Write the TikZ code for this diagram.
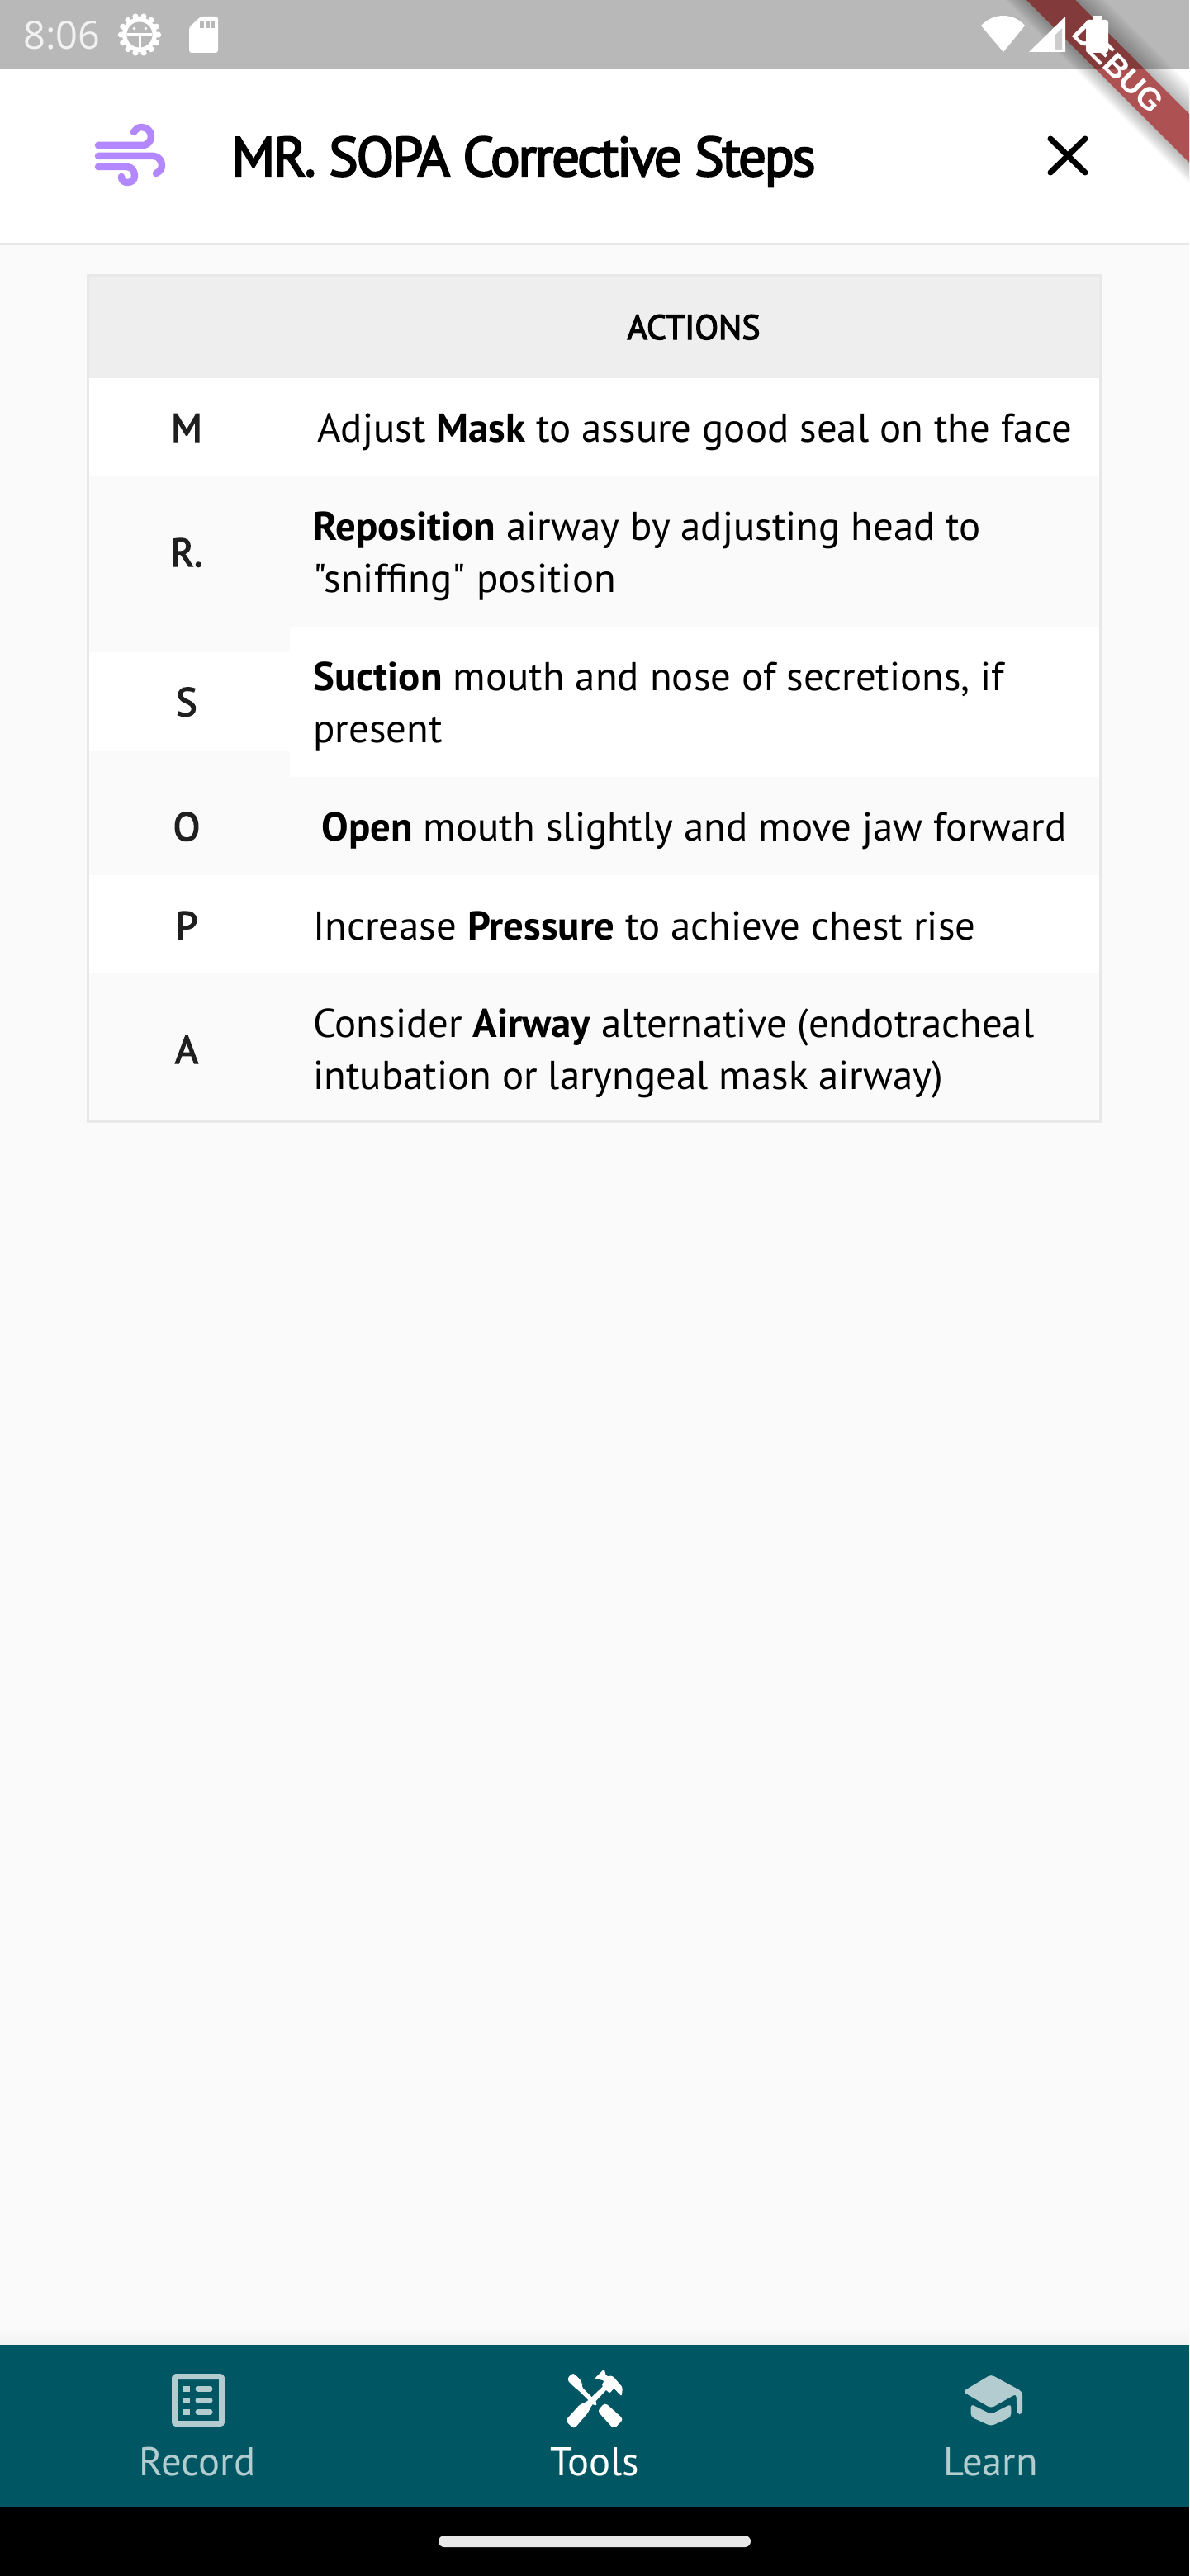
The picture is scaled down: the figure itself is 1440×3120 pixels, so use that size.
\documentclass[tikz,border=0pt]{standalone}
\usepackage{fontspec}
\setmainfont[Ligatures=TeXOff]{PT Sans}
\newfontfamily\medfont[Ligatures=TeXOff,RawFeature={embolden=3}]{PT Sans}
\newfontfamily\clockfont{Open Sans}
\newfontfamily\bannerfont{Liberation Sans}
\usepackage{xcolor}
\usetikzlibrary{positioning,calc}
\definecolor{pagebg}{HTML}{FAFAFA}
\definecolor{statusgray}{HTML}{B8B8B8}
\definecolor{headgray}{HTML}{EEEEEE}
\definecolor{linegray}{HTML}{E8E8E8}
\definecolor{navteal}{HTML}{005662}
\definecolor{navicon}{HTML}{B2CCD0}
\definecolor{windpurple}{HTML}{B388FF}
\definecolor{bannerred}{HTML}{AD5152}
\definecolor{bannerdark}{HTML}{823A3A}
\tikzset{
    rowletter/.style={anchor=base, inner sep=0pt, text=black!88, font=\fontsize{24}{26}\selectfont\medfont},
    rowtext/.style={anchor=base west, inner sep=0pt, align=left, text=black, font=\fontsize{24.4}{31.5}\selectfont},
    navlabel/.style={anchor=base, inner sep=0pt, font=\fontsize{24.3}{26}\selectfont},
    zoomed/.style={x=0.16667pt, y=-0.16667pt}
}
\begin{document}
\begin{tikzpicture}[x=0.5pt, y=-0.5pt, line cap=butt]
    \useasboundingbox (0,0) rectangle (1440,3120);
    \fill[pagebg] (0,0) rectangle (1440,3120);

    % Bars
    \fill[statusgray] (0,0) rectangle (1440,84);
    \fill[white] (0,84) rectangle (1440,294);
    \fill[linegray] (0,294) rectangle (1440,297);

    % Table
    \fill[linegray] (105,332) rectangle (1334,1360);
    \fill[headgray] (108,335) rectangle (1331,458);
    \fill[white] (108,458) rectangle (1331,577);
    \fill[pagebg] (108,577) rectangle (1331,941);
    \fill[white] (108,790) rectangle (351,910);
    \fill[white] (351,760) rectangle (1331,941);
    \fill[pagebg] (108,941) rectangle (1331,1060);
    \fill[white] (108,1060) rectangle (1331,1179);
    \fill[pagebg] (108,1179) rectangle (1331,1357);

    \node[anchor=base, inner sep=0pt, font=\fontsize{21}{26}\selectfont\medfont] (actions) at (840,411) {ACTIONS};

    \node[rowletter] (letterm) at (226,535) {M};
    \node[rowletter] (letterr) at (226,686) {R.};
    \node[rowletter] (letters) at (226,867) {S};
    \node[rowletter] (lettero) at (226,1018) {O};
    \node[rowletter] (letterp) at (226,1138) {P};
    \node[rowletter] (lettera) at (226,1288) {A};

    \node[rowtext] (textm) at (384,535) {Adjust \textbf{Mask} to assure good seal on the face};
    \node[rowtext] (textr) at (379,717) {\textbf{Reposition} airway by adjusting head to\\"sniffing" position};
    \node[rowtext] (texts) at (379,899) {\textbf{Suction} mouth and nose of secretions, if\\present};
    \node[rowtext] (texto) at (389,1018) {\textbf{Open} mouth slightly and move jaw forward};
    \node[rowtext] (textp) at (379,1138) {Increase \textbf{Pressure} to achieve chest rise};
    \node[rowtext] (texta) at (379,1319) {Consider \textbf{Airway} alternative (endotracheal\\intubation or laryngeal mask airway)};

    % App bar
    \node[anchor=base west, inner sep=0pt, font=\fontsize{33.5}{40}\selectfont\medfont\addfontfeature{LetterSpace=-3.6}] (title) at (280,213) {MR. SOPA Corrective Steps};
    \draw[windpurple, line width=4.25pt, line cap=round, line join=round]
        (119,176) -- (172,176) .. controls (180,176) and (183,170) .. (183,165)
        .. controls (183,158) and (177,154) .. (171,154) .. controls (167,154) and (164,157) .. (162,160);
    \draw[windpurple, line width=4.25pt, line cap=round, line join=round]
        (119,189) -- (186,189) .. controls (192,189) and (196,195) .. (196,200)
        .. controls (196,205) and (193,208) .. (189,210);
    \draw[windpurple, line width=4.25pt, line cap=round, line join=round]
        (119,202) -- (154,202) .. controls (160,202) and (163,208) .. (163,213)
        .. controls (163,219) and (158,221) .. (154,221) .. controls (150,221) and (147,218) .. (147,214);
    \draw[black, line width=3.5pt, line cap=round] (1272,168) -- (1314,209);
    \draw[black, line width=3.5pt, line cap=round] (1314,168) -- (1272,209);

    % Debug banner
    \begin{scope}
        \clip (0,0) rectangle (1440,3120);
        \foreach \d in {3,6,...,36} {
            \fill[black, opacity=0.022] (1243-0.7*\d,0) -- (1302+\d,0) -- (1702+\d,400) -- (1643-0.7*\d,400) -- cycle;
        }
        \fill[bannerred] (1243,0) -- (1302,0) -- (1702,400) -- (1643,400) -- cycle;
        \fill[bannerdark] (1243,0) -- (1302,0) -- (1386,84) -- (1327,84) -- cycle;
    \end{scope}
    \node[inner sep=0pt, rotate=-45, text=white, font=\fontsize{19}{20}\selectfont\bannerfont\bfseries] (debug) at (1354,82) {DEBUG};

    % Status bar left
    \node[anchor=base west, inner sep=0pt, text=white!95!black, font=\fontsize{23.5}{28}\selectfont\clockfont] (clock) at (28,60) {8:06};
    \fill[white] (169,42) circle (21);
    \foreach \a in {0,25.7,...,340} {
        \fill[white] ($(169,42)+(\a:22.5)$) circle (3.6);
    }
    \fill[statusgray] (169,42) circle (15.5);
    \fill[white] (154,40.5) rectangle (184,43.5);
    \fill[white] (167.5,42) rectangle (170.5,58);
    \fill[white] (162.5,34.5) circle (1.8);
    \fill[white] (176.5,34.5) circle (1.8);
    \fill[white, rounded corners=1.5pt] (229,33) -- (243,20) -- (264,20) -- (264,64) -- (229,64) -- cycle;
    \fill[statusgray] (242,25) rectangle (246.5,34);
    \fill[statusgray] (249,25) rectangle (253.5,34);
    \fill[statusgray] (256,25) rectangle (260,34);

    % Status bar right
    \fill[white] (1215,63) -- (1188,31) .. controls (1203,15) and (1227,15) .. (1241,31) -- cycle;
    \fill[white] (1246,63) -- (1290,20) -- (1290,63) -- cycle;
    \fill[statusgray!70!white] (1277,60) -- (1277,43) -- (1286,34) -- (1286,60) -- cycle;
    \fill[white, rounded corners=1.5pt] (1315,24) rectangle (1342,64);
    \fill[white] (1323,19) rectangle (1334,26);

    % Bottom bar
    \shade[top color=pagebg, bottom color=black!5] (0,2820) rectangle (1440,2840);
    \fill[navteal] (0,2840) rectangle (1440,3036);
    \fill[black] (0,3036) rectangle (1440,3120);
    \fill[linegray, rounded corners=3.5pt] (531,3071) rectangle (909,3085);

    % Record icon
    \draw[navicon, line width=3.5pt, rounded corners=1pt] (211.5,2878.5) rectangle (268.5,2935.5);
    \foreach \yy in {2893,2907,2921} {
        \fill[navicon] (222,\yy-3.5) rectangle (230,\yy+3.5);
        \draw[navicon, line width=3.5pt, line cap=round] (240,\yy) -- (254,\yy);
    }
    \node[navlabel, text=navicon] (record) at (239,2998) {Record};

    % Tools icon
    \begin{scope}[shift={(620,2850)}, zoomed]
        \fill[white, rounded corners=2pt] (198,95) -- (222,70) -- (258,108) -- (250,120) -- (312,182) -- (300,194) -- (238,132) -- (226,124) -- cycle;
        \fill[white, rounded corners=2pt] (338,180) -- (405,240) -- (370,276) -- (310,210) -- cycle;
        \fill[white, rounded corners=2pt] (194,245) -- (250,183) -- (268,180) -- (340,112) -- (352,124) -- (285,195) -- (280,212) -- (225,276) -- cycle;
        \fill[white, rounded corners=1pt] (300,92) -- (335,58) -- (342,85) -- (365,82) -- (402,125) -- (398,157) -- (370,128) -- (355,146) -- (325,120) -- (335,100) -- cycle;
    \end{scope}
    \node[navlabel, text=white] (tools) at (720,2998) {Tools};

    % Learn icon
    \begin{scope}[shift={(1100,2850)}, zoomed]
        \fill[navicon, rounded corners=2pt] (300,78) -- (197,140) -- (300,200) -- (392,148) -- (394,222) -- (414,222) -- (414,140) -- cycle;
        \fill[navicon, rounded corners=2pt] (227,185) -- (300,222) -- (373,185) -- (373,232) -- (300,265) -- (227,232) -- cycle;
    \end{scope}
    \node[navlabel, text=navicon] (learn) at (1200,2998) {Learn};
\end{tikzpicture}
\end{document}
